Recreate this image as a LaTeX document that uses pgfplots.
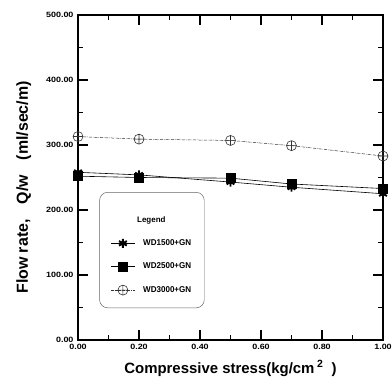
\documentclass[border=0pt]{standalone}
\usepackage{pgfplots}
\pgfplotsset{compat=1.18}
\usepackage{fontspec}
\usepackage{graphicx}
\setmainfont{Liberation Sans}
\begin{document}
\begin{tikzpicture}[x=1bp,y=1bp]
\useasboundingbox (-78bp,-51bp) rectangle (314bp,340bp);
\begin{axis}[
  at={(0,0)}, anchor=south west,
  scale only axis, width=305bp, height=325bp,
  xmin=0, xmax=1, ymin=0, ymax=500,
  xtick={0,0.2,0.4,0.6,0.8,1.0},
  ytick={0,100,200,300,400,500},
  minor x tick num=1, minor y tick num=1,
  tick align=inside,
  major tick length=10bp, minor tick length=5bp,
  every tick/.style={black, line width=1.1pt},
  axis line style={line width=1.3pt},
  /pgf/number format/.cd, fixed, fixed zerofill, precision=2, assume math mode=true,
  /pgfplots/.cd,
  ticklabel style={font=\fontsize{9}{10}\selectfont\bfseries, yscale=0.85},
  xticklabel style={yshift=-1bp},
  yticklabel style={xshift=-1bp},
  xlabel={\fontsize{15}{17}\selectfont\bfseries Compressive stress(kg/cm\,$^{\mathbf 2}$\ \ )},
  ylabel={\fontsize{16}{18}\selectfont\bfseries Flow rate,\hspace{15bp}Q/w\hspace{15bp}(ml/sec/m)},
  xlabel style={yshift=-5bp},
  ylabel style={yshift=8bp, xshift=-10bp},
  legend style={at={(0.07,0.455)}, anchor=north west, draw=black!60, line width=0.5pt,
    rounded corners=8bp, inner xsep=11bp, inner ysep=12bp,
    font=\fontsize{8.5}{9}\selectfont\bfseries, row sep=12bp, legend cell align=left},
  legend image code/.code={\draw[mark repeat=2,mark phase=2,#1] plot coordinates {(0bp,0bp) (12bp,0bp) (24bp,0bp)};},
]
\addlegendimage{empty legend}
\addlegendentry{\raisebox{0pt}[\dimexpr\height+10bp\relax][\depth]{\fontsize{8}{9}\selectfont Legend}}
\addplot[black, line width=0.6pt, mark=asterisk, mark size=4.5bp, mark options={line width=2pt, solid}]
  coordinates {(0,258) (0.2,254) (0.5,243) (0.7,235) (1.0,225)};
\addlegendentry{\hspace*{6bp}\scalebox{0.95}[1]{WD1500+GN}}
\addplot[black, line width=0.6pt, mark=square*, mark size=4.5bp, mark options={solid, fill=black}]
  coordinates {(0,252) (0.2,250) (0.5,249) (0.7,240) (1.0,233)};
\addlegendentry{\hspace*{6bp}\scalebox{0.95}[1]{WD2500+GN}}
\addplot[black!80, line width=0.5pt, densely dash dot, mark=oplus, mark size=5bp, mark options={solid, line width=0.6pt, fill=white}]
  coordinates {(0,313) (0.2,309) (0.5,307) (0.7,299) (1.0,283)};
\addlegendentry{\hspace*{6bp}\scalebox{0.95}[1]{WD3000+GN}}
\end{axis}
\end{tikzpicture}
\end{document}
